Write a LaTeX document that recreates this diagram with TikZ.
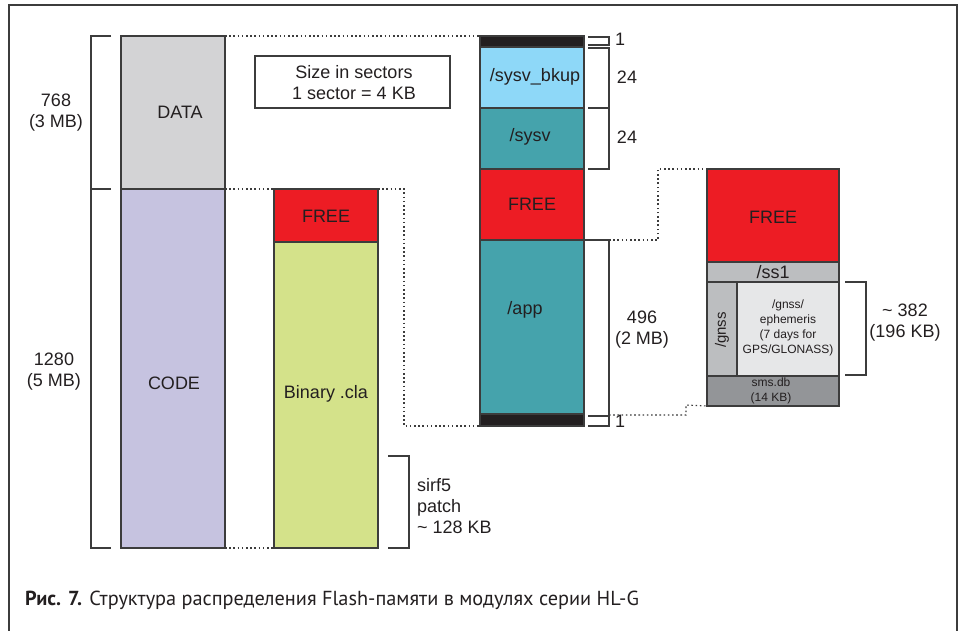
\documentclass[tikz,border=0pt]{standalone}
\usepackage{fontspec}
\setmainfont{Liberation Sans}
\newfontfamily\capfont{PT Sans}
\usetikzlibrary{positioning}
\definecolor{edge}{HTML}{3C3C3C}
\definecolor{ink}{HTML}{231F20}
\definecolor{cdata}{HTML}{D3D3D5}
\definecolor{ccode}{HTML}{C6C3E0}
\definecolor{cfree}{HTML}{ED1C24}
\definecolor{cbin}{HTML}{D4E28A}
\definecolor{cbkup}{HTML}{8ED8F8}
\definecolor{cteal}{HTML}{45A3AC}
\definecolor{cblack}{HTML}{231F20}
\definecolor{cgray}{HTML}{BCBEC0}
\definecolor{clight}{HTML}{E6E7E8}
\definecolor{cdark}{HTML}{939598}
\begin{document}
\begin{tikzpicture}[x=1pt,y=-1pt,
  blk/.style={draw=edge,line width=1.1pt,inner sep=0pt,outer sep=0pt,anchor=north west},
  txt/.style={inner sep=0pt,font=\fontsize{18}{21}\selectfont,text=ink,align=center},
  small/.style={inner sep=0pt,font=\fontsize{12}{15}\selectfont,text=ink,align=center},
  brk/.style={draw=edge,line width=1.1pt},
  dots/.style={draw=edge,line width=1.1pt,dash pattern=on 1.6pt off 2.6pt}]
\useasboundingbox (0,0) rectangle (963,630);
\draw[edge,line width=1.5pt] (9,640) -- (9,5) -- (957,5) -- (957,640);
% left column
\node[blk,fill=cdata,minimum width=104,minimum height=153] (data) at (121,36) {};
\node[blk,fill=ccode,minimum width=104,minimum height=359] (code) at (121,189) {};
\node[txt] (tdata) at (180,112) {DATA};
\node[txt] (tcode) at (174,383) {CODE};
% left bracket
\draw[brk] (111,36) -- (91,36) -- (91,548) -- (111,548);
\draw[brk] (91,189) -- (111,189);
\node[txt] (l768) at (56,113) {768\\(3 MB)};
\node[txt] (l1280) at (54,372) {1280\\(5 MB)};
% info box
\node[blk,minimum width=195,minimum height=52,line width=1.3pt] (info) at (255,56) {};
\node[txt] (tinfo) at (354,83) {Size in sectors\\1 sector = 4 KB};
% second column
\node[blk,fill=cfree,minimum width=104,minimum height=53] (free1) at (274,189) {};
\node[blk,fill=cbin,minimum width=104,minimum height=306] (bin) at (274,242) {};
\node[txt] (tfree1) at (326,216) {FREE};
\node[txt] (tbin) at (326,394) {Binary .cla};
\draw[brk] (388,456) -- (409,456) -- (409,548) -- (388,548);
\node[txt,align=left,anchor=west] (tsirf) at (417,506) {sirf5\\patch\\\textasciitilde{} 128 KB};
% third column
\node[blk,fill=cblack,minimum width=104,minimum height=11] (top1) at (480,36) {};
\node[blk,fill=cbkup,minimum width=104,minimum height=61] (bkup) at (480,47) {};
\node[blk,fill=cteal,minimum width=104,minimum height=61] (sysv) at (480,108) {};
\node[blk,fill=cfree,minimum width=104,minimum height=71] (free2) at (480,169) {};
\node[blk,fill=cteal,minimum width=104,minimum height=174] (app) at (480,240) {};
\node[blk,fill=cblack,minimum width=104,minimum height=12] (bot1) at (480,414) {};
\node[txt] (tbkup) at (535,77) {/sysv\_bkup};
\node[txt] (tsysv) at (530,137) {/sysv};
\node[txt] (tfree2) at (532,204) {FREE};
\node[txt] (tapp) at (525,310) {/app};
% brackets of third column
\draw[brk] (588,37) -- (609,37) -- (609,45) -- (588,45);
\draw[brk] (588,48) -- (609,48) -- (609,169) -- (588,169);
\draw[brk] (588,108) -- (609,108);
\draw[brk] (584,240) -- (609,240) -- (609,426) -- (588,426);
\draw[brk] (588,416) -- (609,416);
\node[txt] (n1a) at (620,39) {1};
\node[txt] (n24a) at (627,77) {24};
\node[txt] (n24b) at (627,137) {24};
\node[txt] (n496) at (642,330) {496\\(2 MB)};
\node[txt] (n1b) at (620,421) {1};
% fourth block
\node[blk,fill=cfree,minimum width=132,minimum height=93] (free3) at (707,169) {};
\node[blk,fill=cgray,minimum width=132,minimum height=20] (ss1) at (707,262) {};
\node[blk,fill=cgray,minimum width=30,minimum height=94] (gnss) at (707,282) {};
\node[blk,fill=clight,minimum width=102,minimum height=94] (eph) at (737,282) {};
\node[blk,fill=cdark,minimum width=132,minimum height=30] (sms) at (707,376) {};
\node[txt] (tfree3) at (773,217) {FREE};
\node[txt] (tss1) at (773,272) {/ss1};
\node[txt,rotate=90,font=\fontsize{15}{18}\selectfont] (tgnss) at (722,330) {/gnss};
\node[small] (teph) at (788,328) {/gnss/\\ephemeris\\(7 days for\\GPS/GLONASS)};
\node[small] (tsms) at (771,391) {sms.db\\(14 KB)};
\draw[brk] (845,282) -- (866,282) -- (866,375) -- (845,375);
\node[txt] (n382) at (905,323) {\textasciitilde{} 382\\(196 KB)};
% dotted connectors
\draw[dots] (data.north east) -- (top1.north west);
\draw[dots] (code.north east) -- (free1.north west);
\draw[dots] (free1.north east) -- (404,189) -- (404,426) -- (bot1.south west);
\draw[dots] (code.south east) -- (bin.south west);
\draw[dots] (609,240) -- (658,240) -- (658,169) -- (free3.north west);
\draw[dots] (609,415) -- (686,415) -- (686,405) -- (sms.south west);
% caption
\node[anchor=base west,inner sep=0pt,font=\capfont\fontsize{20.3}{23}\selectfont,text=ink] (cap) at (25,605) {\textbf{Рис. 7.} Структура распределения Flash-памяти в модулях серии HL-G};
\end{tikzpicture}
\end{document}
